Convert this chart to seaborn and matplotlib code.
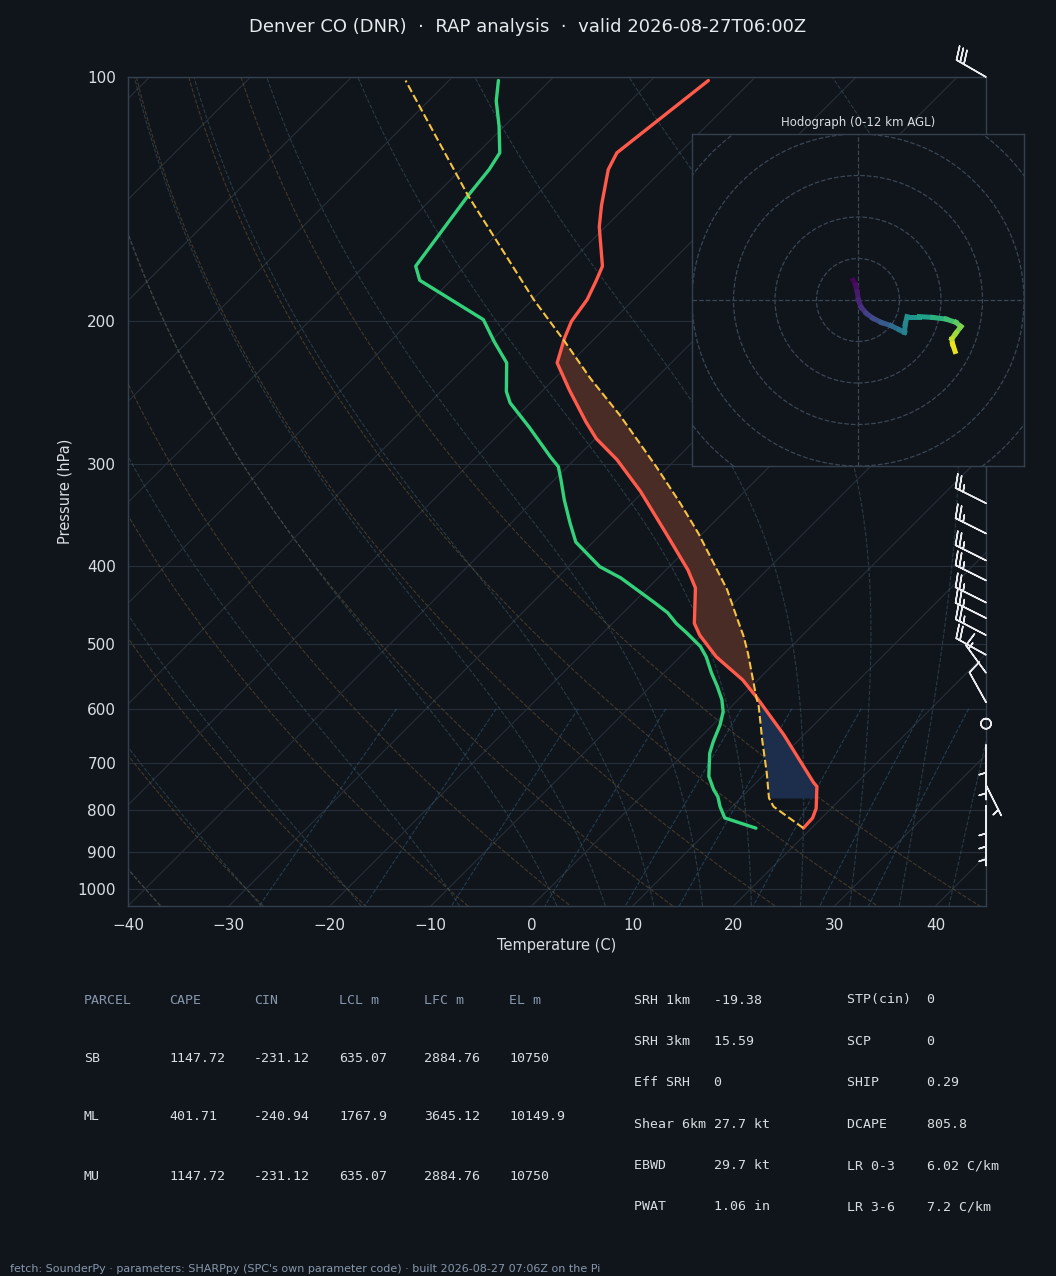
import numpy as np
import matplotlib
matplotlib.use("Agg")
import matplotlib.pyplot as plt
import seaborn as sns
from matplotlib.collections import LineCollection
from matplotlib.patches import Circle
from matplotlib.ticker import FixedLocator, NullLocator, FuncFormatter

# ---- sounding (hPa, degC) ----
temp_p = [842, 818, 796, 748, 740, 646, 580, 553, 518, 487, 471, 426, 405, 365, 324,
          296, 279, 266, 243, 225, 210, 200, 188, 178, 171, 153, 144, 130, 124, 101]
temp_c = [19.2, 19.1, 18.5, 16.4, 15.7, 8.0, 1.5, -1.5, -6.4, -10.2, -11.9, -15.3, -17.8, -23.6, -30.3,
          -35.8, -39.9, -42.6, -47.4, -51.3, -53.0, -54.0, -54.6, -55.6, -56.4, -60.6, -62.5, -65.4, -66.2, -64.3]

dew_p = [842, 818, 792, 770, 755, 727, 681, 659, 628, 605, 585, 563, 542, 518, 503, 484, 471, 457, 443,
         414, 401, 374, 354, 332, 313, 302, 294, 270, 252, 244, 225, 212, 199, 178, 171, 140, 130, 124,
         115, 107, 101]
dew_c = [14.5, 10.4, 8.8, 7.6, 6.5, 4.7, 2.5, 1.7, 0.7, -0.3, -1.6, -3.4, -5.3, -7.4, -9.0, -11.7, -13.7,
         -15.6, -18.1, -23.7, -26.9, -31.7, -34.2, -37.0, -39.4, -40.9, -42.6, -47.7, -52.0, -53.5, -56.3,
         -59.6, -62.9, -73.1, -74.9, -76.7, -77.2, -77.8, -80.5, -83.3, -85.1]

parcel_p = [842, 792, 773, 720, 656, 596, 580, 513, 489, 462, 428, 393, 365, 335, 302, 261, 235, 212, 188, 140, 101]
parcel_c = [19.2, 14.1, 12.8, 10.1, 6.4, 2.7, 1.5, -3.6, -5.7, -8.4, -12.0, -16.5, -20.4, -25.2, -31.2,
            -39.9, -46.5, -52.6, -59.9, -76.7, -94.3]
lcl_p = 773

# wind barbs (kt)
barb_p = [100, 150, 175, 200, 250, 300, 335, 365, 394, 417, 444, 464, 487, 515, 542, 589,
          626, 665, 705, 745, 790, 820, 850]
barb_u = [26, 24, 23, 23, 22, 22, 22, 22, 22, 22, 22, 22, 21, 18, 8, 5,
          0, 0, 0, -2, 0, 0, 0]
barb_v = [-15, -12, -12, -11, -12, -11, -11, -11, -11, -11, -11, -11, -11, -10, -11, -9,
          0, 5, 4, 4, 4, 5, 5]

# hodograph trace (kt) and height (km)
hodo_u = [-1.2, -0.6, -0.2, 0.1, 0.8, 2.0, 3.6, 5.6, 8.0, 10.0, 11.2, 11.4, 11.8, 14.8, 18.0, 21.2,
          23.6, 24.8, 23.6, 22.6, 22.8, 23.4]
hodo_v = [4.8, 3.6, 2.0, 0.0, -1.8, -3.2, -4.4, -5.4, -6.2, -7.2, -7.8, -5.8, -4.0, -4.0, -4.2, -4.6,
          -5.4, -6.4, -8.0, -9.4, -10.6, -12.4]
hodo_z = [0.0, 0.3, 0.6, 1.0, 1.5, 2.0, 2.5, 3.0, 3.8, 4.5, 5.2, 5.5, 5.8, 6.5, 7.3, 8.0, 8.7, 9.4,
          10.0, 10.6, 11.2, 12.0]

# parameter table
parcel_rows = ["SB", "ML", "MU"]
cape = ["1147.72", "401.71", "1147.72"]
cin = ["-231.12", "-240.94", "-231.12"]
lcl_m = ["635.07", "1767.9", "635.07"]
lfc_m = ["2884.76", "3645.12", "2884.76"]
el_m = ["10750", "10149.9", "10750"]
idx_left = [("SRH 1km", "-19.38"), ("SRH 3km", "15.59"), ("Eff SRH", "0"),
            ("Shear 6km", "27.7 kt"), ("EBWD", "29.7 kt"), ("PWAT", "1.06 in")]
idx_right = [("STP(cin)", "0"), ("SCP", "0"), ("SHIP", "0.29"),
             ("DCAPE", "805.8"), ("LR 0-3", "6.02 C/km"), ("LR 3-6", "7.2 C/km")]

BG = "#10151b"
GRID = "#262f39"
SPINE = "#34404d"
TXT = "#d9dde2"
DIM = "#8797ab"
P_BOT, P_TOP = 1050, 100
SKEW = 80.44  # degC of shift per decade of pressure (45 deg isotherms)

sns.set_theme(style="dark", rc={"axes.facecolor": BG, "figure.facecolor": BG,
                                "axes.edgecolor": SPINE, "text.color": TXT,
                                "axes.labelcolor": TXT, "xtick.color": TXT, "ytick.color": TXT})
plt.rcParams["font.family"] = ["DejaVu Sans"]


def skew_x(t, p):
    return np.asarray(t, float) + SKEW * np.log10(P_BOT / np.asarray(p, float))


# saturated lapse rate, for the moist adiabat guide lines
Rd, Cp, Lv, eps = 287.04749, 1004.6662, 2.50084e6, 0.621957


def dtdp(p, t):
    es = 6.112 * np.exp(17.67 * (t - 273.15) / (t - 29.65))
    rs = eps * es / (p - es)
    return (Rd * t + Lv * rs) / (Cp + Lv * Lv * rs * eps / (Rd * t * t)) / p


def integrate(t, p0, plev):
    vals = []
    p = p0
    for pn in plev:
        n = 6
        h = (pn - p) / n
        for _ in range(n):
            k1 = dtdp(p, t)
            k2 = dtdp(p + h / 2, t + h / 2 * k1)
            k3 = dtdp(p + h / 2, t + h / 2 * k2)
            k4 = dtdp(p + h, t + h * k3)
            t += h / 6 * (k1 + 2 * k2 + 2 * k3 + k4)
            p += h
        vals.append(t)
    return np.array(vals)


fig = plt.figure(figsize=(10.56, 12.76), dpi=100)
ax = fig.add_axes([128 / 1056, 1 - 906 / 1276, 858 / 1056, 829 / 1276])
ax.set_yscale("log")

pres = np.geomspace(P_TOP, P_BOT, 120)

# isotherms and pressure lines
for t in np.arange(-140, 50, 10):
    ax.plot(skew_x([t, t], [P_BOT, P_TOP]), [P_BOT, P_TOP], color=GRID, lw=0.8, zorder=1)
for p in range(100, 1001, 100):
    ax.axhline(p, color=GRID, lw=0.8, zorder=1)

# dry adiabats
for t0 in np.arange(-40, 46, 10):
    th = t0 + 273.15
    tt = th * (pres / 1000.0) ** 0.2857 - 273.15
    ax.plot(skew_x(tt, pres), pres, color="#6b5536", lw=0.8, ls="--", alpha=0.55, zorder=1)

# moist adiabats
up = np.geomspace(1000, P_TOP, 90)
down = np.array([1025.0, 1050.0])
for t0 in list(range(-40, 0, 10)) + list(range(0, 46, 5)):
    tk = t0 + 273.15
    tu = integrate(tk, 1000.0, up)
    td = integrate(tk, 1000.0, down)
    pp = np.concatenate([down[::-1], up])
    tt = np.concatenate([td[::-1], tu]) - 273.15
    ax.plot(skew_x(tt, pp), pp, color="#3d5866", lw=0.8, ls="--", alpha=0.55, zorder=1)

# mixing ratio lines
pm = np.linspace(600, P_BOT, 30)
for w in [0.0004, 0.001, 0.002, 0.004, 0.007, 0.01, 0.016, 0.024, 0.032]:
    e = pm * w / (eps + w)
    le = np.log(e / 6.112)
    td = 243.5 * le / (17.67 - le)
    ax.plot(skew_x(td, pm), pm, color="#2f5673", lw=0.8, ls="--", alpha=0.6, zorder=1)

# CAPE / CIN shading
pg = np.geomspace(lcl_p, P_TOP, 500)
lp = np.log(pg)[::-1]
t_i = np.interp(lp, np.log(temp_p)[::-1], np.array(temp_c)[::-1])[::-1]
pc_i = np.interp(lp, np.log(parcel_p)[::-1], np.array(parcel_c)[::-1])[::-1]
xt, xpc = skew_x(t_i, pg), skew_x(pc_i, pg)
ax.fill_betweenx(pg, xt, xpc, where=(pc_i >= t_i), interpolate=True, color="#4a2c26", lw=0, zorder=2)
ax.fill_betweenx(pg, xt, xpc, where=(pc_i <= t_i) & (pg > 500), interpolate=True,
                 color="#1c2e4b", lw=0, zorder=2)

# profiles
sns.lineplot(x=skew_x(temp_c, temp_p), y=temp_p, sort=False, estimator=None,
             color="#ff5a4a", lw=2.4, ax=ax, zorder=4)
sns.lineplot(x=skew_x(dew_c, dew_p), y=dew_p, sort=False, estimator=None,
             color="#33d17a", lw=2.4, ax=ax, zorder=4)
sns.lineplot(x=skew_x(parcel_c, parcel_p), y=parcel_p, sort=False, estimator=None,
             color="#f5c242", lw=1.5, ls="--", ax=ax, zorder=4)

# barbs on the right edge
ax.barbs(np.full(len(barb_p), 45.0), barb_p, barb_u, barb_v, length=7, color="#e8eaed",
         linewidth=1.1, clip_on=False, zorder=5)

ax.set_ylim(P_BOT, P_TOP)
ax.set_xlim(-40, 45)
ax.yaxis.set_major_locator(FixedLocator(list(range(100, 1001, 100))))
ax.yaxis.set_major_formatter(FuncFormatter(lambda v, _: f"{int(v)}"))
ax.yaxis.set_minor_locator(NullLocator())
ax.set_xticks(range(-40, 41, 10))
ax.tick_params(labelsize=11, length=5, width=1, colors=TXT, labelcolor=TXT)
ax.set_xlabel("Temperature (C)", fontsize=10.5, color=TXT, labelpad=4)
ax.set_ylabel("Pressure (hPa)", fontsize=10.5, color=TXT, labelpad=4)
ax.grid(False)
for s in ax.spines.values():
    s.set_color(SPINE)
    s.set_linewidth(1)

fig.text(0.5, 1 - 27 / 1276, "Denver CO (DNR)  \u00b7  RAP analysis  \u00b7  valid 2026-08-27T06:00Z",
         ha="center", va="center", fontsize=13, color="#e6e9ed")

# hodograph inset
hx = fig.add_axes([692 / 1056, 1 - 466 / 1276, 332 / 1056, 332 / 1276])
hx.set_facecolor(BG)
hx.set_xlim(-40, 40)
hx.set_ylim(-40, 40)
for r in range(10, 70, 10):
    hx.add_patch(Circle((0, 0), r, fill=False, ec="#3a4654", lw=0.9, ls="--"))
hx.axhline(0, color="#3a4654", lw=0.9, ls="--")
hx.axvline(0, color="#3a4654", lw=0.9, ls="--")
pts = np.column_stack([hodo_u, hodo_v]).reshape(-1, 1, 2)
segs = np.concatenate([pts[:-1], pts[1:]], axis=1)
zmid = (np.array(hodo_z[:-1]) + np.array(hodo_z[1:])) / 2
lc = LineCollection(segs, cmap="viridis", norm=plt.Normalize(0, 12), linewidths=3.6, capstyle="projecting")
lc.set_array(zmid)
hx.add_collection(lc)
hx.set_xticks([-37.5, -25, -12.5, 0, 12.5, 25, 37.5])
hx.set_yticks(range(-40, 41, 10))
hx.tick_params(labelbottom=False, labelleft=False, length=4, width=1, colors="#e0e3e7")
hx.grid(False)
for s in hx.spines.values():
    s.set_color(SPINE)
    s.set_linewidth(1)
hx.set_title("Hodograph (0-12 km AGL)", fontsize=8.5, color=TXT, pad=6)

# parameter table
mono = "DejaVu Sans Mono"
cols_x = [84, 169, 254, 339, 424, 509]
for x, h in zip(cols_x, ["PARCEL", "CAPE", "CIN", "LCL m", "LFC m", "EL m"]):
    fig.text(x / 1056, 1 - 1000 / 1276, h, family=mono, fontsize=9.5, color=DIM, va="center")
for i, row in enumerate(zip(parcel_rows, cape, cin, lcl_m, lfc_m, el_m)):
    y = 1058 + i * 59
    for x, val in zip(cols_x, row):
        fig.text(x / 1056, 1 - y / 1276, val, family=mono, fontsize=9.5, color=TXT, va="center")
for i, ((l1, v1), (l2, v2)) in enumerate(zip(idx_left, idx_right)):
    y = 1000 + i * 41.4
    fig.text(634 / 1056, 1 - y / 1276, f"{l1:<10}{v1}", family=mono, fontsize=9.5, color=TXT, va="center")
    fig.text(847 / 1056, 1 - y / 1276, f"{l2:<10}{v2}", family=mono, fontsize=9.5, color=TXT, va="center")

fig.text(10 / 1056, 1 - 1269 / 1276,
         "fetch: SounderPy \u00b7 parameters: SHARPpy (SPC's own parameter code) \u00b7 built 2026-08-27 07:06Z on the Pi",
         fontsize=8, color=DIM, va="center")

fig.savefig("out.png", dpi=100, facecolor=BG)
